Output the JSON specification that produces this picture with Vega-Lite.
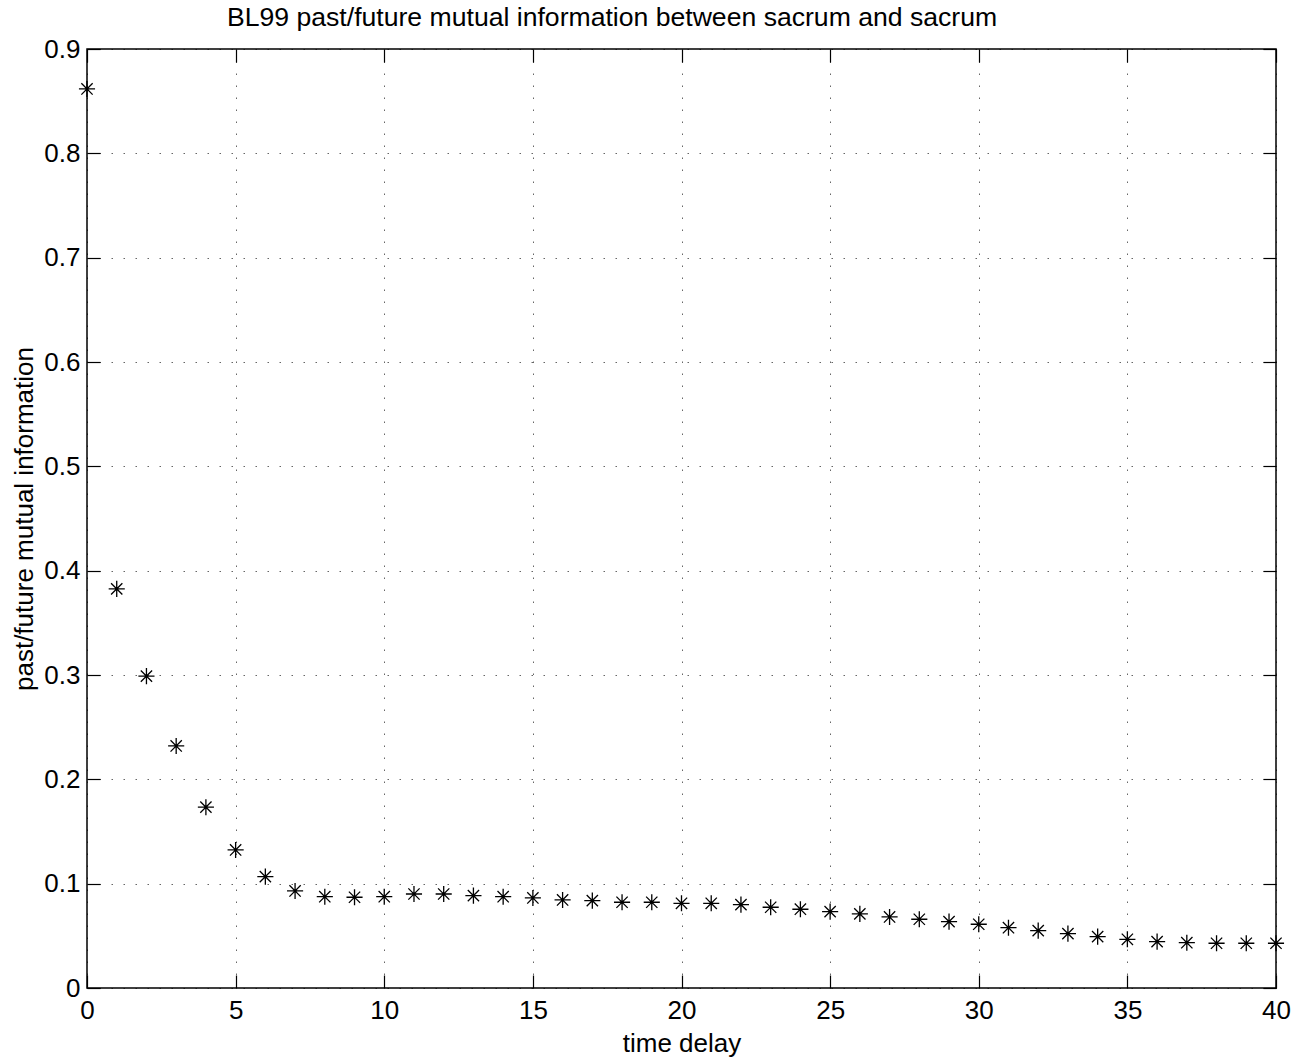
{
  "$schema": "https://vega.github.io/schema/vega-lite/v6.json",
  "autosize": {"type": "none"},
  "width": 1189,
  "height": 939,
  "padding": {"left": 87, "top": 49, "right": 29, "bottom": 75},
  "background": "white",
  "config": {
    "font": "Liberation Sans",
    "view": {"stroke": "black", "strokeWidth": 1.5},
    "axis": {
      "domain": false,
      "tickColor": "black",
      "tickSize": -13,
      "tickWidth": 1.2,
      "labelFont": "Liberation Sans",
      "labelFontSize": 26,
      "labelColor": "black",
      "titleFont": "Liberation Sans",
      "titleFontSize": 26,
      "titleFontWeight": "normal",
      "titleColor": "black",
      "gridColor": "#000000",
      "gridOpacity": 0.6,
      "gridDash": [1.5, 10.5],
      "gridWidth": 1
    }
  },
  "title": {
    "text": "BL99 past/future mutual information between sacrum and sacrum",
    "anchor": "start",
    "frame": "group",
    "dx": 140,
    "offset": 4,
    "fontSize": 26.6,
    "fontWeight": "normal",
    "font": "Liberation Sans",
    "color": "black"
  },
  "data": {
    "values": [
      {"t": 0, "mi": 0.8617},
      {"t": 1, "mi": 0.3826},
      {"t": 2, "mi": 0.2989},
      {"t": 3, "mi": 0.232},
      {"t": 4, "mi": 0.1733},
      {"t": 5, "mi": 0.1323},
      {"t": 6, "mi": 0.1067},
      {"t": 7, "mi": 0.093},
      {"t": 8, "mi": 0.0875},
      {"t": 9, "mi": 0.087},
      {"t": 10, "mi": 0.0875},
      {"t": 11, "mi": 0.0901},
      {"t": 12, "mi": 0.0901},
      {"t": 13, "mi": 0.0885},
      {"t": 14, "mi": 0.0875},
      {"t": 15, "mi": 0.0863},
      {"t": 16, "mi": 0.0844},
      {"t": 17, "mi": 0.0837},
      {"t": 18, "mi": 0.0822},
      {"t": 19, "mi": 0.0822},
      {"t": 20, "mi": 0.0812},
      {"t": 21, "mi": 0.0812},
      {"t": 22, "mi": 0.0799},
      {"t": 23, "mi": 0.0774},
      {"t": 24, "mi": 0.0755},
      {"t": 25, "mi": 0.0732},
      {"t": 26, "mi": 0.071},
      {"t": 27, "mi": 0.0681},
      {"t": 28, "mi": 0.0659},
      {"t": 29, "mi": 0.0636},
      {"t": 30, "mi": 0.0611},
      {"t": 31, "mi": 0.0578},
      {"t": 32, "mi": 0.055},
      {"t": 33, "mi": 0.0521},
      {"t": 34, "mi": 0.0492},
      {"t": 35, "mi": 0.0467},
      {"t": 36, "mi": 0.0444},
      {"t": 37, "mi": 0.0434},
      {"t": 38, "mi": 0.0429},
      {"t": 39, "mi": 0.0429},
      {"t": 40, "mi": 0.0429}
    ]
  },
  "layer": [
    {
      "mark": {
        "type": "point",
        "shape": "M-1,0L1,0M0,-1L0,1M-0.7,-0.7L0.7,0.7M-0.7,0.7L0.7,-0.7",
        "filled": false,
        "stroke": "black",
        "strokeWidth": 1.3,
        "size": 260,
        "opacity": 1,
        "clip": false
      },
      "encoding": {
        "x": {
          "field": "t", "type": "quantitative",
          "scale": {"domain": [0, 40], "nice": false, "zero": false},
          "axis": {"orient": "bottom", "values": [0, 5, 10, 15, 20, 25, 30, 35, 40], "title": "time delay", "labelPadding": 22, "titleBaseline": "alphabetic", "titleY": 63, "grid": true, "labelFlush": false}
        },
        "y": {
          "field": "mi", "type": "quantitative",
          "scale": {"domain": [0, 0.9], "nice": false},
          "axis": {"orient": "left", "values": [0, 0.1, 0.2, 0.3, 0.4, 0.5, 0.6, 0.7, 0.8, 0.9], "format": ".1~f", "title": "past/future mutual information", "labelPadding": 20, "titleBaseline": "alphabetic", "titleX": -55, "grid": true, "labelFlush": false}
        }
      }
    },
    {
      "mark": {"type": "point", "opacity": 0},
      "encoding": {
        "x": {
          "field": "t", "type": "quantitative",
          "scale": {"domain": [0, 40], "nice": false, "zero": false},
          "axis": {"orient": "top", "values": [0, 5, 10, 15, 20, 25, 30, 35, 40], "labels": false, "title": null, "grid": false}
        },
        "y": {
          "field": "mi", "type": "quantitative",
          "scale": {"domain": [0, 0.9], "nice": false},
          "axis": {"orient": "right", "values": [0, 0.1, 0.2, 0.3, 0.4, 0.5, 0.6, 0.7, 0.8, 0.9], "labels": false, "title": null, "grid": false}
        }
      }
    }
  ],
  "resolve": {"axis": {"x": "independent", "y": "independent"}}
}
